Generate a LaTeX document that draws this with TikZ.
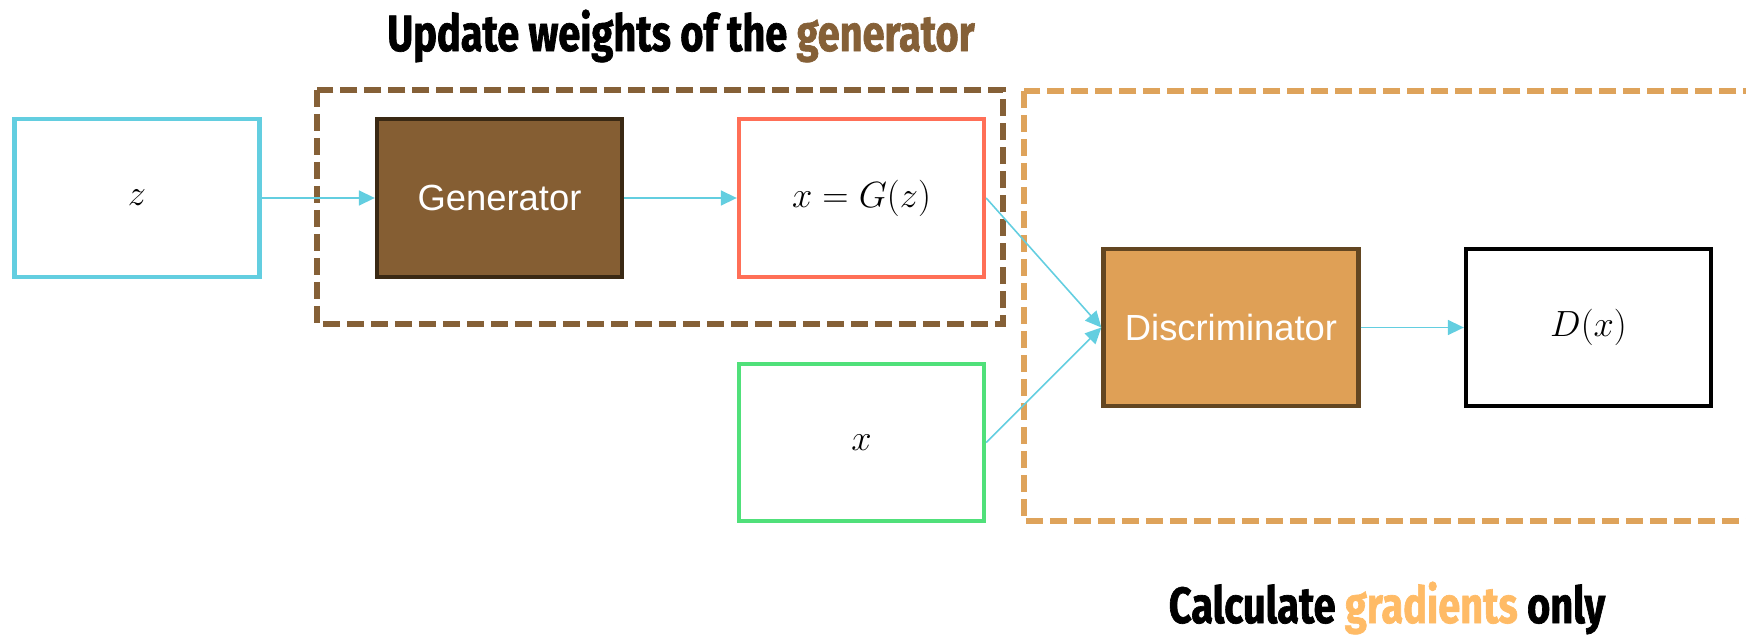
\documentclass[tikz,border=0pt]{standalone}
\usepackage{fontspec}
\setmainfont{Liberation Sans}
\newfontfamily\headfont[FakeStretch=0.78, BoldFeatures={FakeBold=1.3}]{Fira Sans}
\usetikzlibrary{arrows.meta}
\definecolor{linkblue}{RGB}{99,206,224}
\definecolor{genfill}{RGB}{133,94,51}
\definecolor{gendraw}{RGB}{58,41,20}
\definecolor{fakered}{RGB}{255,111,87}
\definecolor{realgreen}{RGB}{80,224,122}
\definecolor{discfill}{RGB}{223,160,86}
\definecolor{discdraw}{RGB}{99,70,33}
\definecolor{genzone}{RGB}{133,96,55}
\definecolor{disczone}{RGB}{222,163,91}
\definecolor{gradorange}{RGB}{255,187,102}

\begin{document}
\begin{tikzpicture}[
  x=0.02cm, y=-0.02cm,
  >={Triangle[length=3.2mm,width=3mm]},
  box/.style={draw, line width=2.5pt, inner sep=0pt, minimum width=4.9cm, minimum height=3.15cm, font=\fontsize{20.7}{24}\selectfont},
  net/.style={box, text=white},
  zone/.style={line width=3pt, dash pattern=on 3.4mm off 1.4mm},
  arrow/.style={->, draw=linkblue, fill=linkblue, line width=0.9pt},
  heading/.style={inner sep=0pt, font=\headfont\bfseries\fontsize{29}{34}\selectfont}
]
\useasboundingbox (0,0) rectangle (1746,635);
\clip (0,0) rectangle (1746,635);

\node[heading] (upd) at (681,36) {Update weights of the \textcolor{genzone}{generator}};
\node[heading] (calc) at (1387,608) {Calculate \textcolor{gradorange}{gradients} only};

\draw[zone, genzone] (317,90) rectangle (1003,324);
\draw[zone, disczone] (1024,91) rectangle (1790,521);

\node[box, draw=linkblue] (z) at (137,198) {$z$};
\node[net, draw=gendraw, fill=genfill] (gen) at (499.5,198) {Generator};
\node[box, draw=fakered] (gz) at (861.5,198) {$x = G(z)$};
\node[box, draw=realgreen] (xr) at (861.5,442.5) {$x$};
\node[net, draw=discdraw, fill=discfill, minimum width=5.1cm] (disc) at (1231,327.5) {Discriminator};
\node[box, draw=black] (dx) at (1588.5,327.5) {$D(x)$};

\draw[arrow] (z) -- (gen);
\draw[arrow] (gen) -- (gz);
\draw[arrow] (gz.east) -- (disc.west);
\draw[arrow] (xr.east) -- (disc.west);
\draw[arrow] (disc) -- (dx);

\end{tikzpicture}
\end{document}
